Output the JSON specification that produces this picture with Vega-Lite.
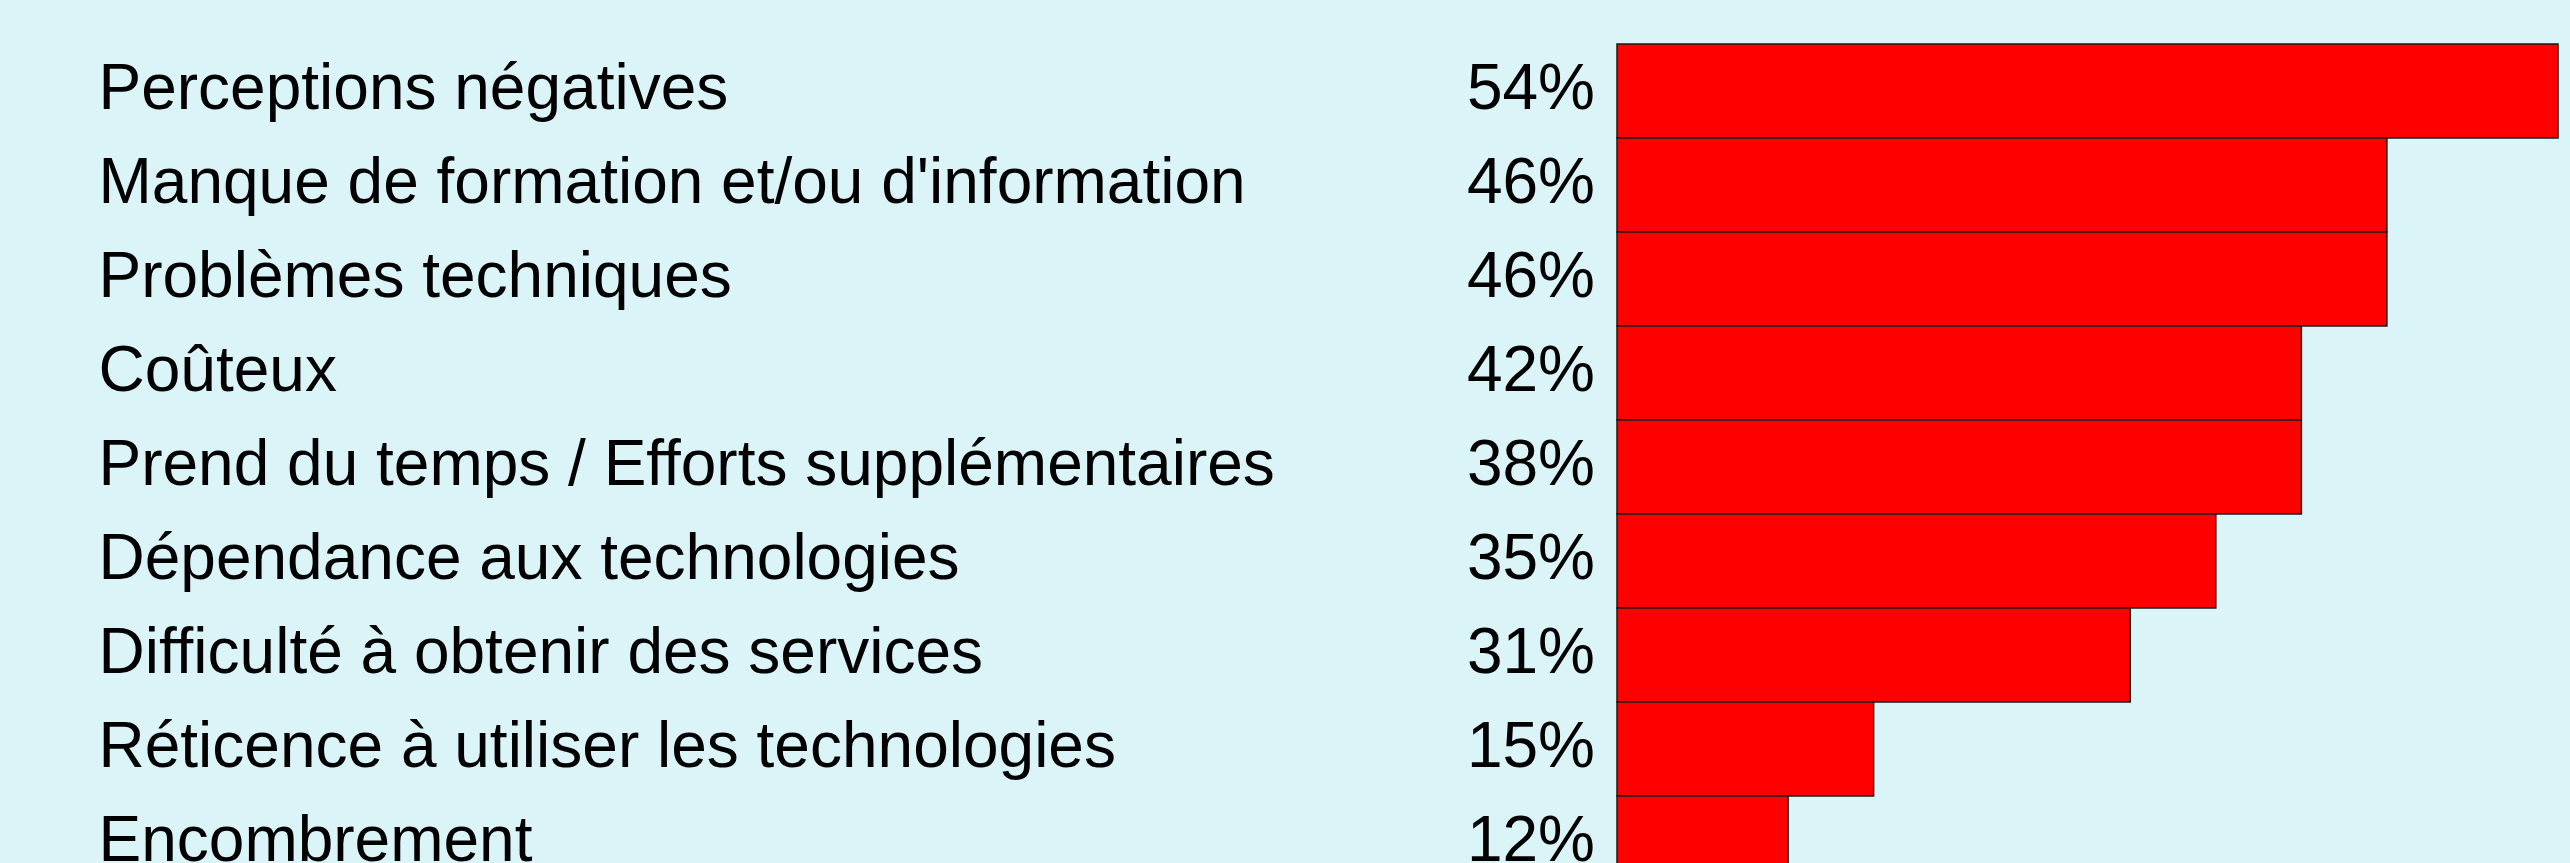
{
  "$schema": "https://vega.github.io/schema/vega-lite/v6.json",
  "autosize": {"type": "none"},
  "padding": {"left": 1617, "top": 44, "right": 12, "bottom": 0},
  "width": 941,
  "height": 819,
  "background": "#DAF4F8",
  "config": {"view": {"stroke": null}, "font": "Liberation Sans"},
  "data": {
    "values": [
      {"obstacle": "Perceptions négatives", "pct": 0.54, "bar": 55},
      {"obstacle": "Manque de formation et/ou d'information", "pct": 0.46, "bar": 45},
      {"obstacle": "Problèmes techniques", "pct": 0.46, "bar": 45},
      {"obstacle": "Coûteux", "pct": 0.42, "bar": 40},
      {"obstacle": "Prend du temps / Efforts supplémentaires", "pct": 0.38, "bar": 40},
      {"obstacle": "Dépendance aux technologies", "pct": 0.35, "bar": 35},
      {"obstacle": "Difficulté à obtenir des services", "pct": 0.31, "bar": 30},
      {"obstacle": "Réticence à utiliser les technologies", "pct": 0.15, "bar": 15},
      {"obstacle": "Encombrement", "pct": 0.12, "bar": 10}
    ]
  },
  "encoding": {
    "y": {
      "field": "obstacle",
      "type": "nominal",
      "sort": null,
      "scale": {"range": [0, 846], "paddingInner": 0, "paddingOuter": 0},
      "axis": {
        "title": null,
        "domain": false,
        "ticks": false,
        "grid": false,
        "labelAlign": "left",
        "labelBaseline": "alphabetic",
        "labelOffset": 18,
        "labelPadding": 1519,
        "labelFontSize": 64,
        "labelFont": "Liberation Sans",
        "labelColor": "#000000",
        "labelLimit": 0
      }
    }
  },
  "layer": [
    {
      "mark": {"type": "bar", "fill": "#FF0000", "stroke": "#1a1a1a", "strokeWidth": 1.5},
      "encoding": {
        "x": {"field": "bar", "type": "quantitative", "scale": {"domain": [0, 55], "nice": false, "zero": true}, "axis": null}
      }
    },
    {
      "mark": {"type": "text", "align": "right", "baseline": "alphabetic", "dx": -22, "dy": 18, "fontSize": 64, "font": "Liberation Sans", "color": "#000000"},
      "encoding": {
        "x": {"datum": 0, "type": "quantitative"},
        "text": {"field": "pct", "type": "quantitative", "format": ".0%"}
      }
    }
  ]
}
